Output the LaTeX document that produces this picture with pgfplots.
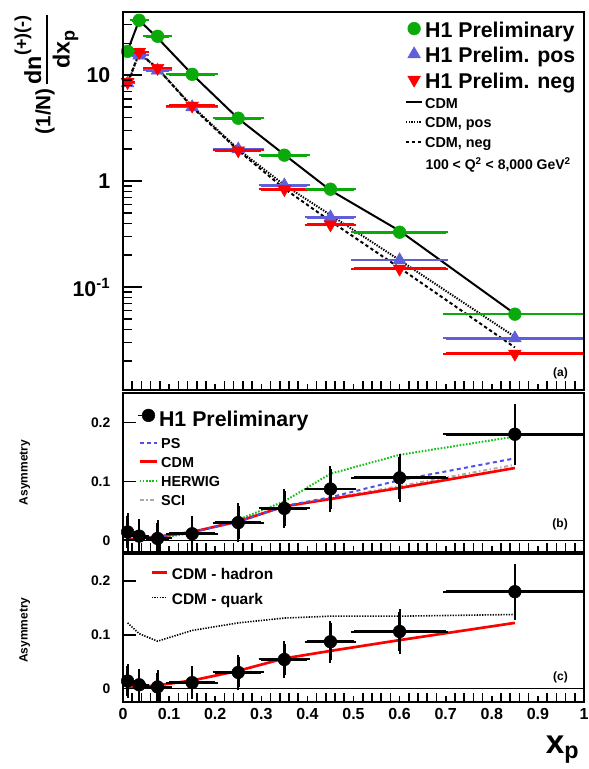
\documentclass[border=0pt]{standalone}
\usepackage{pgfplots}
\pgfplotsset{compat=1.18}
\usepackage{amsmath}
\usepackage{fontspec}
\setmainfont{Liberation Sans}

\definecolor{h1green}{RGB}{10,170,10}
\definecolor{h1blue}{RGB}{95,95,220}
\definecolor{h1red}{RGB}{255,0,0}
\definecolor{psblue}{RGB}{80,80,230}
\definecolor{hwgreen}{RGB}{20,190,20}
\definecolor{scigrey}{RGB}{185,165,160}

\pgfplotsset{
  legline/.style={legend image code/.code={\draw[##1] (0pt,0pt) -- (#1,0pt);}},
  legmark/.style={legend image code/.code={\draw[##1] plot coordinates {(#1,0pt)};}},
  legmarkb/.style={legend image code/.code={\path (0pt,0pt) -- (12.75pt,0pt); \draw[##1] plot coordinates {(#1,0pt)};}},
  h1base/.style={
    scale only axis, width=345.75pt, anchor=north west,
    xmin=0, xmax=1, clip mode=individual,
    axis line style={line width=1.8pt},
    tick pos=left, tick align=inside,
    tick style={line width=1.2pt, black},
    xtick={0,0.1,0.2,0.3,0.4,0.5,0.6,0.7,0.8,0.9,1},
    minor x tick num=4,
    xticklabels={},
  },
  xpart/.style={ymajorticks=false, yminorticks=false, major tick length=4.5pt, minor tick length=2.5pt},
  ypart/.style={xmajorticks=false, xminorticks=false, major tick length=#1, minor tick length=7pt},
  asymdata/.style={only marks, mark=*, mark size=4.75pt, black,
    error bars/.cd, x dir=both, x explicit, y dir=both, y explicit,
    error bar style={line width=2pt}, error mark options={mark size=2pt, line width=1.5pt}},
}

\begin{document}
\begin{tikzpicture}[font=\bfseries]
\path[use as bounding box] (0pt,0pt) rectangle (441.75pt,-576.75pt);

% ---------------- panel (a) ----------------
\begin{axis}[h1base, xpart, at={(92.25pt,-9pt)}, height=283.5pt,
  ymode=log, ymin=0.0107, ymax=39.5,
  legend cell align=left,
  legend style={at={(rel axis cs:0.612,0.99)}, anchor=north west, draw=none, fill=none,
    inner sep=0pt, outer sep=0pt, row sep=0pt, column sep=0pt, nodes={inner sep=1.5pt}, font=\bfseries},
]
\addlegendimage{only marks, mark=*, mark size=4.75pt, h1green, legmark=6pt}
\addlegendentry{\raisebox{0pt}[14.7pt][3.3pt]{\fontsize{16}{18}\selectfont H1 Preliminary}}
\addlegendimage{only marks, mark=triangle*, mark size=5.5pt, h1blue, legmark=6pt}
\addlegendentry{\raisebox{0pt}[14.7pt][3.3pt]{\fontsize{16}{18}\selectfont H1 Prelim. pos}}
\addlegendimage{only marks, mark=triangle*, mark size=5.5pt, mark options={rotate=180}, h1red, legmark=6pt}
\addlegendentry{\raisebox{0pt}[14.7pt][3.3pt]{\fontsize{16}{18}\selectfont H1 Prelim. neg}}
\addlegendimage{black, line width=1.5pt, legline=12pt}
\addlegendentry{\raisebox{0pt}[10.2pt][2.4pt]{\fontsize{10.8}{12}\selectfont CDM}}
\addlegendimage{black, line width=1.5pt, dash pattern=on 1pt off 1pt, legline=12pt}
\addlegendentry{\raisebox{0pt}[10.2pt][2.4pt]{\fontsize{10.8}{12}\selectfont CDM, pos}}
\addlegendimage{black, line width=1.5pt, dash pattern=on 2.5pt off 2pt, legline=12pt}
\addlegendentry{\raisebox{0pt}[10.2pt][2.4pt]{\fontsize{10.8}{12}\selectfont CDM, neg}}

% model curves
\addplot[forget plot, black, line width=1.5pt] coordinates {
 (0.01,17) (0.035,33) (0.075,22.5) (0.15,10.2) (0.25,3.9) (0.35,1.78) (0.45,0.82) (0.6,0.34) (0.85,0.056)};
\addplot[forget plot, black, line width=1.5pt, dash pattern=on 1pt off 1pt] coordinates {
 (0.01,8.3) (0.035,16) (0.075,11.6) (0.15,5.1) (0.25,2.0) (0.35,0.92) (0.45,0.48) (0.6,0.18) (0.85,0.034)};
\addplot[forget plot, black, line width=1.5pt, dash pattern=on 2.5pt off 2pt] coordinates {
 (0.01,8.5) (0.035,16.3) (0.075,11.6) (0.15,5.0) (0.25,1.95) (0.35,0.85) (0.45,0.42) (0.6,0.152) (0.85,0.027)};

% data
\addplot[forget plot, only marks, mark=triangle*, mark size=5.5pt, h1blue,
  error bars/.cd, x dir=both, x explicit, error bar style={line width=2pt}, error mark options={mark size=2pt, line width=1.5pt}] coordinates {
 (0.01,8.4) +- (0.01,0) (0.035,15.4) +- (0.015,0) (0.075,11.1) +- (0.025,0) (0.15,5.0) +- (0.05,0)
 (0.25,2.0) +- (0.05,0) (0.35,0.915) +- (0.05,0) (0.45,0.457) +- (0.05,0) (0.6,0.18) +- (0.1,0) (0.85,0.033) +- (0.15,0)};
\addplot[forget plot, only marks, mark=triangle*, mark size=5.5pt, mark options={rotate=180}, h1red,
  error bars/.cd, x dir=both, x explicit, error bar style={line width=2pt}, error mark options={mark size=2pt, line width=1.5pt}] coordinates {
 (0.01,8.6) +- (0.01,0) (0.035,16.5) +- (0.015,0) (0.075,11.7) +- (0.025,0) (0.15,5.15) +- (0.05,0)
 (0.25,1.95) +- (0.05,0) (0.35,0.84) +- (0.05,0) (0.45,0.39) +- (0.05,0) (0.6,0.149) +- (0.1,0) (0.85,0.0235) +- (0.15,0)};
\addplot[forget plot, only marks, mark=*, mark size=4.75pt, h1green,
  error bars/.cd, x dir=both, x explicit, error bar style={line width=2pt}, error mark options={mark size=2pt, line width=1.5pt}] coordinates {
 (0.01,16.8) +- (0.01,0) (0.035,33) +- (0.015,0) (0.075,23.3) +- (0.025,0) (0.15,10.2) +- (0.05,0)
 (0.25,3.93) +- (0.05,0) (0.35,1.76) +- (0.05,0) (0.45,0.84) +- (0.05,0) (0.6,0.33) +- (0.1,0) (0.85,0.0556) +- (0.15,0)};

\node[anchor=west, font=\fontsize{10.5}{12}\selectfont\bfseries] at (rel axis cs:0.646,0.595)
  {100 < Q\textsuperscript{2} < 8,000 GeV\textsuperscript{2}};
\node[anchor=east, font=\fontsize{9}{10}\selectfont\bfseries] at (rel axis cs:0.975,0.045) {(a)};
\node[rotate=90, font=\bfseries] at (rel axis cs:-0.166,0.837)
  {{\fontsize{15.5}{18}\selectfont (1/N)}\,$\genfrac{}{}{1.2pt}{0}{\text{\fontsize{17.5}{20}\selectfont dn}^{\text{\fontsize{13.5}{16}\selectfont (+)(-)}}}{\text{\fontsize{17.5}{20}\selectfont dx}_{\text{\fontsize{13.5}{16}\selectfont p}}}$};
\end{axis}
\begin{axis}[h1base, ypart=14pt, at={(92.25pt,-9pt)}, height=283.5pt,
  ymode=log, ymin=0.0107, ymax=39.5,
  ytick={0.1,1,10}, yticklabels={10\textsuperscript{-1},1,10},
  minor ytick={0.02,0.03,0.04,0.05,0.06,0.07,0.08,0.09,0.2,0.3,0.4,0.5,0.6,0.7,0.8,0.9,2,3,4,5,6,7,8,9,20,30},
  yticklabel style={font=\fontsize{16}{18}\selectfont\bfseries, xshift=-6pt},
]
\end{axis}

% ---------------- panel (b) ----------------
\begin{axis}[h1base, xpart, at={(92.25pt,-294.75pt)}, height=119.25pt,
  ymin=-0.02, ymax=0.25,
  legend cell align=left,
  legend style={at={(rel axis cs:0.033,0.95)}, anchor=north west, draw=none, fill=none,
    inner sep=0pt, outer sep=0pt, row sep=0pt, column sep=0pt,
    nodes={inner xsep=2.5pt, inner ysep=1pt}, font=\bfseries},
]
\addlegendimage{only marks, mark=*, mark size=4.75pt, black, legmarkb=7.5pt}
\addlegendentry{\raisebox{0pt}[18.15pt][6.75pt]{\fontsize{16}{18}\selectfont H1 Preliminary}}

\addplot[forget plot, black, line width=0.8pt] coordinates {(0,0) (1,0)};
\addplot[forget plot, hwgreen, line width=1.5pt, dash pattern=on 1.2pt off 1.2pt] coordinates {
 (0.01,0.0) (0.035,0.002) (0.075,0.004) (0.15,0.012) (0.25,0.035) (0.35,0.066) (0.45,0.113) (0.6,0.145) (0.85,0.176)};
\addplot[forget plot, scigrey, line width=1.5pt, dash pattern=on 3pt off 2pt on 1pt off 2pt] coordinates {
 (0.01,0.001) (0.035,0.003) (0.075,0.006) (0.15,0.014) (0.25,0.032) (0.35,0.057) (0.45,0.071) (0.6,0.092) (0.85,0.128)};
\addplot[forget plot, h1red, line width=2pt] coordinates {
 (0.01,0.001) (0.035,0.003) (0.075,0.006) (0.15,0.014) (0.25,0.032) (0.35,0.0576) (0.45,0.070) (0.6,0.0887) (0.85,0.1226)};
\addplot[forget plot, psblue, line width=1.5pt, dash pattern=on 3pt off 2.5pt] coordinates {
 (0.01,0.001) (0.035,0.003) (0.075,0.006) (0.15,0.014) (0.25,0.031) (0.35,0.058) (0.45,0.073) (0.6,0.102) (0.85,0.139)};
\addplot[forget plot, asymdata] coordinates {
 (0.01,0.014) +- (0.01,0.027) (0.035,0.007) +- (0.015,0.025) (0.075,0.003) +- (0.025,0.026)
 (0.15,0.011) +- (0.05,0.026) (0.25,0.030) +- (0.05,0.028) (0.35,0.054) +- (0.05,0.029)
 (0.45,0.087) +- (0.05,0.034) (0.6,0.106) +- (0.1,0.036) (0.85,0.180) +- (0.15,0.047)};
\node[anchor=east, font=\fontsize{9}{10}\selectfont\bfseries] at (rel axis cs:0.975,0.176) {(b)};
\node[rotate=90, font=\fontsize{9}{10}\selectfont\bfseries] at (rel axis cs:-0.213,0.5) {Asymmetry};
\end{axis}
\begin{axis}[h1base, ypart=9.5pt, at={(92.25pt,-294.75pt)}, height=119.25pt,
  ymin=-0.02, ymax=0.25,
  ytick={0,0.1,0.2}, yticklabels={0,0.1,0.2},
  yticklabel style={font=\fontsize{10.4}{12}\selectfont\bfseries, xshift=-6pt},
  legend cell align=left,
  legend style={at={(rel axis cs:0.033,0.745)}, anchor=north west, draw=none, fill=none,
    inner sep=0pt, outer sep=0pt, row sep=0.8pt, column sep=0pt,
    nodes={inner xsep=2.5pt, inner ysep=1pt}, font=\bfseries},
]
\addlegendimage{psblue, line width=1.5pt, dash pattern=on 3pt off 2.5pt, legline=12.75pt}
\addlegendentry{\raisebox{0pt}[10pt][2.25pt]{\fontsize{10.8}{12}\selectfont PS}}
\addlegendimage{h1red, line width=2pt, legline=12.75pt}
\addlegendentry{\raisebox{0pt}[10pt][2.25pt]{\fontsize{10.8}{12}\selectfont CDM}}
\addlegendimage{hwgreen, line width=1.5pt, dash pattern=on 1.2pt off 1.2pt, legline=12.75pt}
\addlegendentry{\raisebox{0pt}[10pt][2.25pt]{\fontsize{10.8}{12}\selectfont HERWIG}}
\addlegendimage{scigrey, line width=1.5pt, dash pattern=on 3pt off 2pt on 1pt off 2pt, legline=12.75pt}
\addlegendentry{\raisebox{0pt}[10pt][2.25pt]{\fontsize{10.8}{12}\selectfont SCI}}
\end{axis}

% ---------------- panel (c) ----------------
\begin{axis}[h1base, xpart, at={(92.25pt,-415.5pt)}, height=111pt,
  ymin=-0.025, ymax=0.25,
  xticklabels={0,0.1,0.2,0.3,0.4,0.5,0.6,0.7,0.8,0.9,1},
  xticklabel style={font=\fontsize{12}{14}\selectfont\bfseries, yshift=-1.5pt},
  legend cell align=left,
  legend style={at={(rel axis cs:0.059,0.945)}, anchor=north west, draw=none, fill=none,
    inner sep=0pt, outer sep=0pt, row sep=3pt, column sep=0pt,
    nodes={inner xsep=3pt, inner ysep=1pt}, font=\bfseries},
]
\addlegendimage{h1red, line width=2pt, legline=11.25pt}
\addlegendentry{\raisebox{0pt}[12.15pt][3.85pt]{\fontsize{11.6}{13}\selectfont CDM - hadron}}
\addlegendimage{black, line width=1.2pt, dash pattern=on 1pt off 1pt, legline=11.25pt}
\addlegendentry{\raisebox{0pt}[12.15pt][3.85pt]{\fontsize{11.6}{13}\selectfont CDM - quark}}

\addplot[forget plot, black, line width=0.8pt] coordinates {(0,0) (1,0)};
\addplot[forget plot, black, line width=1.2pt, dash pattern=on 1pt off 1pt] coordinates {
 (0.01,0.122) (0.035,0.102) (0.075,0.088) (0.15,0.108) (0.25,0.122) (0.35,0.131) (0.45,0.1345) (0.6,0.1345) (0.85,0.1376)};
\addplot[forget plot, h1red, line width=2pt] coordinates {
 (0.01,0.001) (0.035,0.003) (0.075,0.006) (0.15,0.015) (0.25,0.033) (0.35,0.056) (0.45,0.070) (0.6,0.090) (0.85,0.122)};
\addplot[forget plot, asymdata] coordinates {
 (0.01,0.014) +- (0.01,0.027) (0.035,0.007) +- (0.015,0.025) (0.075,0.003) +- (0.025,0.026)
 (0.15,0.011) +- (0.05,0.026) (0.25,0.030) +- (0.05,0.028) (0.35,0.054) +- (0.05,0.029)
 (0.45,0.087) +- (0.05,0.034) (0.6,0.106) +- (0.1,0.036) (0.85,0.180) +- (0.15,0.047)};
\node[anchor=east, font=\fontsize{9}{10}\selectfont\bfseries] at (rel axis cs:0.975,0.169) {(c)};
\node[rotate=90, font=\fontsize{9}{10}\selectfont\bfseries] at (rel axis cs:-0.213,0.486) {Asymmetry};
\node[anchor=base east, font=\fontsize{25}{28}\selectfont\bfseries] at (rel axis cs:1,-0.345) {x\textsubscript{p}};
\end{axis}
\begin{axis}[h1base, ypart=9.5pt, at={(92.25pt,-415.5pt)}, height=111pt,
  ymin=-0.025, ymax=0.25,
  ytick={0,0.1,0.2}, yticklabels={0,0.1,0.2},
  yticklabel style={font=\fontsize{10.4}{12}\selectfont\bfseries, xshift=-6pt},
]
\end{axis}
\end{tikzpicture}
\end{document}
